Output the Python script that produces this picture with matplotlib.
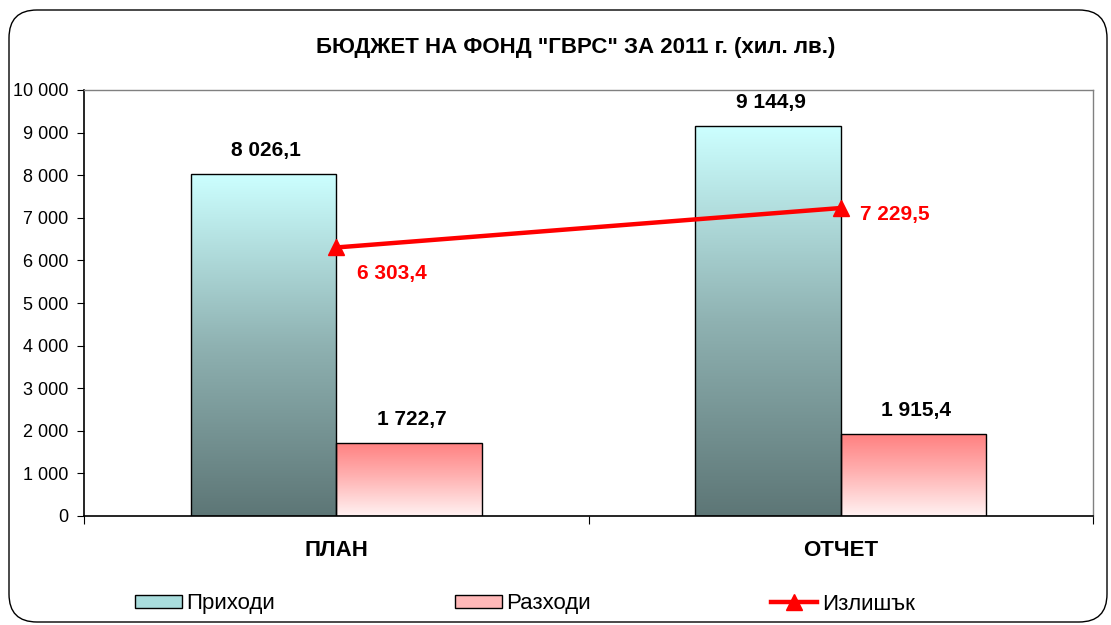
import matplotlib
matplotlib.use("Agg")
import matplotlib.pyplot as plt
import numpy as np
from matplotlib.colors import LinearSegmentedColormap
from matplotlib.patches import FancyBboxPatch, Patch
from matplotlib.lines import Line2D
from matplotlib.ticker import FuncFormatter, MultipleLocator

plt.rcParams['font.family'] = ['Liberation Sans', 'DejaVu Sans']

categories = ["ПЛАН", "ОТЧЕТ"]
income = [8026.1, 9144.9]
expense = [1722.7, 1915.4]
surplus = [6303.4, 7229.5]
series_names = ["Приходи", "Разходи", "Излишък"]
title = 'БЮДЖЕТ НА ФОНД "ГВРС" ЗА 2011 г. (хил. лв.)'


def fmt(v, dec=1):
    s = f"{v:,.{dec}f}".replace(",", " ").replace(".", ",")
    return s


fig = plt.figure(figsize=(11.11, 6.25), dpi=100)
ax = fig.add_axes([84 / 1111, 1 - 516 / 625, (1093 - 84) / 1111, (516 - 90) / 625])

# rounded chart frame
frame = FancyBboxPatch((9, 625 - 622), 1098, 612,
                       boxstyle="round,pad=0,rounding_size=28",
                       transform=None, facecolor="none", edgecolor="black",
                       linewidth=1.0, zorder=0)
fig.patches.append(frame)

cm_in = LinearSegmentedColormap.from_list("inc", ["#5d7676", "#8fb2b2", "#ccffff"])
cm_out = LinearSegmentedColormap.from_list("out", [(0, "#fff2f2"), (0.55, "#ffb0b0"), (1, "#ff8080")])

x = np.arange(len(categories))
w = 0.288
grad = np.linspace(0, 1, 256).reshape(-1, 1)

def gradient_bars(xs, vals, cmap):
    bars = ax.bar(xs, vals, w, facecolor="none", edgecolor="black", linewidth=1.0, zorder=3)
    for b in bars:
        x0, y0 = b.get_x(), b.get_y()
        im = ax.imshow(grad, cmap=cmap, origin="lower", aspect="auto",
                       extent=(x0, x0 + b.get_width(), y0, y0 + b.get_height()), zorder=2)
        im.set_clip_path(b)
    return bars

gradient_bars(x - w / 2, income, cm_in)
gradient_bars(x + w / 2, expense, cm_out)

ax.plot(x, surplus, color="#ff0000", linewidth=3.2, marker="^", markersize=12, zorder=5)

for xi, v in zip(x - w / 2, income):
    ax.annotate(fmt(v), (xi, v), xytext=(2, 17), textcoords="offset points",
                ha="center", va="center", fontsize=15, fontweight="bold")
for xi, v in zip(x + w / 2, expense):
    ax.annotate(fmt(v), (xi, v), xytext=(2, 17), textcoords="offset points",
                ha="center", va="center", fontsize=15, fontweight="bold")
for xi, v, off in zip(x, surplus, [(15, -19), (14, -5)]):
    ax.annotate(fmt(v), (xi, v), xytext=off, textcoords="offset points",
                ha="left", va="center", fontsize=15, fontweight="bold", color="#ff0000")

ax.set_xlim(-0.5, 1.5)
ax.set_ylim(0, 10000)
ax.set_xticks(x)
ax.set_xticklabels(categories, fontsize=16, fontweight="bold")
ax.set_xticks([-0.5, 0.5, 1.5], minor=True)
ax.tick_params(axis="x", which="major", length=0, pad=17)
ax.tick_params(axis="x", which="minor", length=6, direction="out", width=0.8)
ax.yaxis.set_major_locator(MultipleLocator(1000))
ax.yaxis.set_major_formatter(FuncFormatter(lambda v, p: fmt(v, 0)))
ax.tick_params(axis="y", length=5, width=0.8, labelsize=13, pad=6)

for s in ["top", "right"]:
    ax.spines[s].set_color("#808080")
    ax.spines[s].set_linewidth(1.0)
for s in ["left", "bottom"]:
    ax.spines[s].set_color("black")
    ax.spines[s].set_linewidth(1.2)

fig.text(576 / 1111, 1 - 47 / 625, title, ha="center", va="center",
         fontsize=16, fontweight="bold")

handles = [Patch(facecolor="#a8dcdc", edgecolor="black", linewidth=1.0),
           Patch(facecolor="#ffb8b8", edgecolor="black", linewidth=1.0),
           Line2D([], [], color="#ff0000", linewidth=3.2, marker="^", markersize=12)]
fig.legend(handles, series_names, loc="center", bbox_to_anchor=(525 / 1111, 1 - 604 / 625),
           ncol=3, frameon=False, fontsize=16, handlelength=2.1, handleheight=0.55,
           handletextpad=0.2, columnspacing=8.1)

fig.savefig("out.png", dpi=100)
